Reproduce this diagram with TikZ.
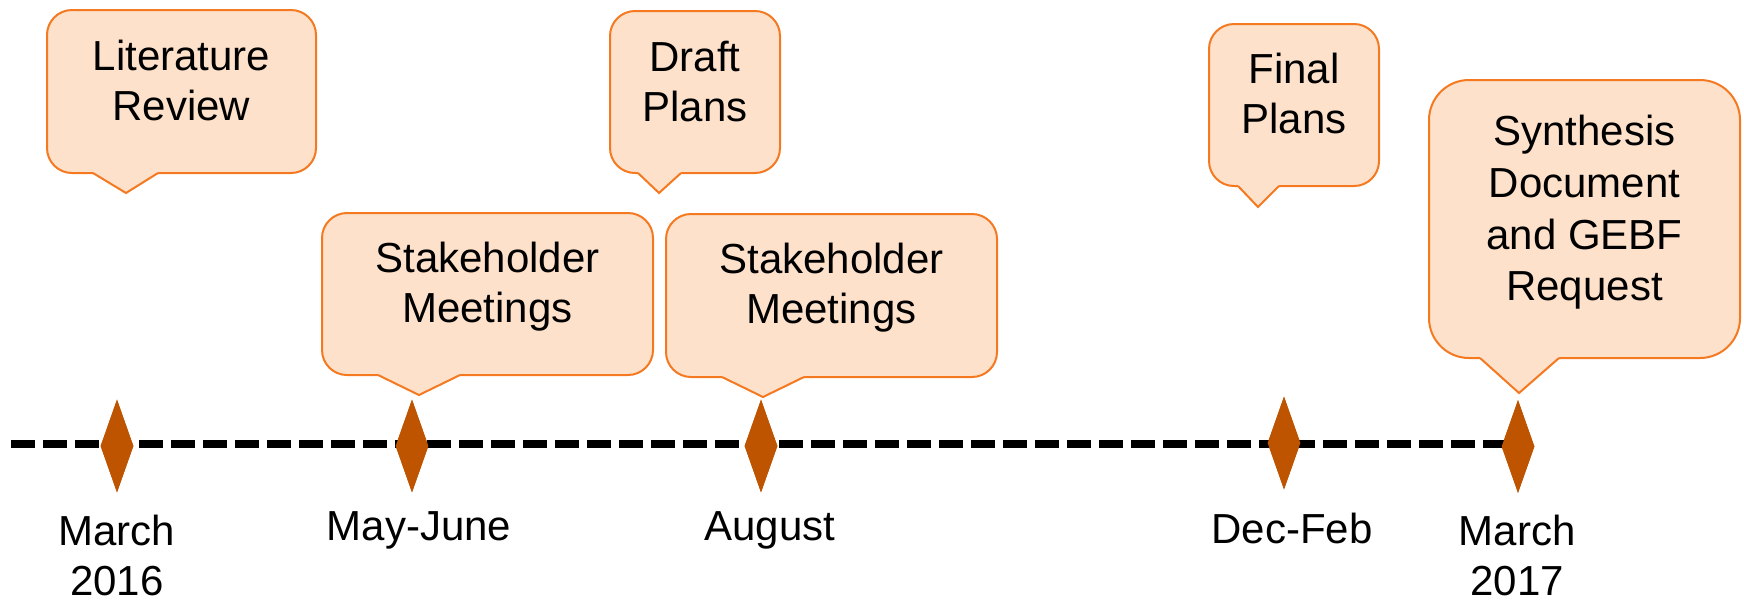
\documentclass[tikz,border=0pt]{standalone}
\usepackage{fontspec}
\setmainfont{Liberation Sans}
\usetikzlibrary{shapes.geometric}
\definecolor{peach}{HTML}{FDE1CB}
\definecolor{edgeorange}{HTML}{F47920}
\definecolor{rust}{HTML}{BE5400}
\newcommand{\calltail}[5]{% xl, B, tipx, tipy, xr
  \fill[peach] (#1,#2-4) -- (#1,#2) -- (#3,#4) -- (#5,#2) -- (#5,#2-4) -- cycle;
  \draw[tailline] (#1,#2) -- (#3,#4) -- (#5,#2);}
\begin{document}
\begin{tikzpicture}[x=0.5pt,y=-0.5pt,
  callbox/.style={draw=edgeorange, fill=peach, line width=1pt, rounded corners=12.5pt, inner sep=0pt},
  tailline/.style={draw=edgeorange, line width=1pt, line join=miter},
  calltext/.style={font=\fontsize{21}{25}\selectfont, align=center, inner sep=0pt},
  milestone/.style={diamond, fill=rust, inner sep=0pt, minimum width=16.5pt, minimum height=46.5pt},
  datelabel/.style={font=\fontsize{21}{25}\selectfont, align=center, inner sep=0pt},
  timeline/.style={line width=4pt, dash pattern=on 11.75pt off 4.25pt}]
\useasboundingbox (0,0) rectangle (1744,601);

% timeline
\node[milestone] (d1) at (117,446) {};
\node[milestone] (d2) at (412,446) {};
\node[milestone] (d3) at (761,446) {};
\node[milestone] (d4) at (1284,443) {};
\node[milestone] (d5) at (1518,446.5) {};
\coordinate (tlstart) at (11,444);
\draw[timeline] (tlstart) -- (tlstart -| d5.center);
\foreach \d in {d1,d2,d3,d4,d5} \node[milestone] at (\d) {};

% date labels
\node[datelabel] (l1) at (117,560) {March\strut\\2016\strut};
\node[datelabel, anchor=base] (l2) at (419,540) {May-June};
\node[datelabel, anchor=base] (l3) at (770,540) {August};
\node[datelabel, anchor=base] (l4) at (1292,543) {Dec-Feb};
\node[datelabel] (l5) at (1517,560.5) {March\strut\\2017\strut};

% callout 1: Literature Review
\node[callbox, minimum width=134.5pt, minimum height=81.5pt] (b1) at (181.5,91.5) {};
\calltail{93}{173}{126}{193}{158}
\node[calltext] (t1) at (181.5,85) {Literature\strut\\Review\strut};

% callout 2: Draft Plans
\node[callbox, minimum width=85pt, minimum height=81pt] (b2) at (695,92) {};
\calltail{638}{173}{659}{193}{681}
\node[calltext] (t2) at (695,86) {Draft\strut\\Plans\strut};

% callout 3: Stakeholder Meetings
\node[callbox, minimum width=165.5pt, minimum height=81pt] (b3) at (487.5,294) {};
\calltail{378}{375}{419}{395}{460}
\node[calltext] (t3) at (487.5,287) {Stakeholder\strut\\Meetings\strut};

% callout 4: Stakeholder Meetings
\node[callbox, minimum width=165.5pt, minimum height=81.5pt] (b4) at (831.5,295.5) {};
\calltail{722}{377}{763}{397}{804}
\node[calltext] (t4) at (831.5,288.5) {Stakeholder\strut\\Meetings\strut};

% callout 5: Final Plans
\node[callbox, minimum width=85pt, minimum height=81pt] (b5) at (1294,105) {};
\calltail{1238}{186}{1258}{207}{1279}
\node[calltext] (t5) at (1294,98) {Final\strut\\Plans\strut};

% callout 6: Synthesis Document and GEBF Request
\node[callbox, rounded corners=20pt, minimum width=155.5pt, minimum height=139pt] (b6) at (1584.5,219) {};
\calltail{1480}{358}{1519}{393}{1559}
\node[calltext, font=\fontsize{21}{25.8}\selectfont] (t6) at (1584.5,213) {Synthesis\strut\\Document\strut\\and GEBF\strut\\Request\strut};
\end{tikzpicture}
\end{document}
